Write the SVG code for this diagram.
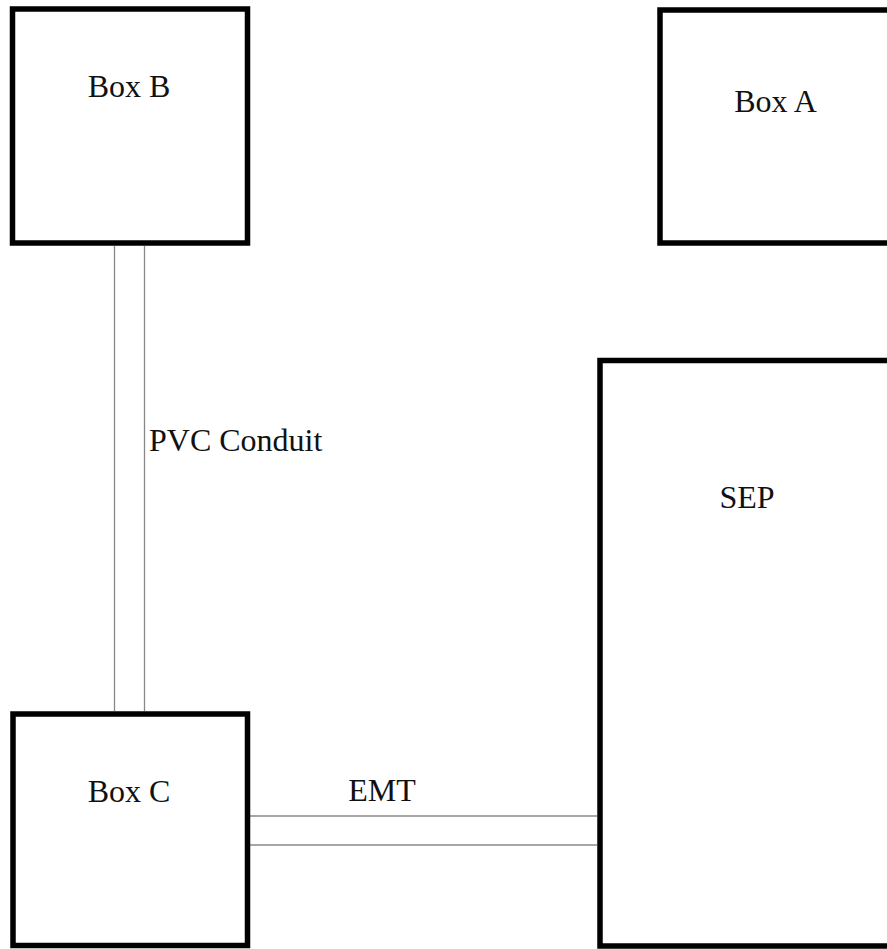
<svg xmlns="http://www.w3.org/2000/svg" width="887" height="949" viewBox="0 0 887 949">
<style>
.box{fill:#fff;stroke:#000;stroke-width:5.5}
.lbl{font-family:"Liberation Serif","Times New Roman",serif;font-size:32px;fill:#111}
.pipe{stroke:#888;stroke-width:1.3;fill:none}
</style>
<rect width="887" height="949" fill="#fff"/>
<g id="connectors">
<line class="pipe" x1="114.5" y1="246" x2="114.5" y2="711"/>
<line class="pipe" x1="144.5" y1="246" x2="144.5" y2="711"/>
<line class="pipe" x1="250" y1="816" x2="597" y2="816"/>
<line class="pipe" x1="250" y1="845" x2="597" y2="845"/>
<text class="lbl" x="149" y="451">PVC Conduit</text>
<text class="lbl" x="382" y="801" text-anchor="middle">EMT</text>
</g>
<g id="boxB">
<rect class="box" x="12.5" y="9" width="235" height="234"/>
<text class="lbl" x="129" y="97" text-anchor="middle">Box B</text>
</g>
<g id="boxA">
<rect class="box" x="660" y="10" width="260" height="233"/>
<text class="lbl" x="775.5" y="112" text-anchor="middle">Box A</text>
</g>
<g id="boxC">
<rect class="box" x="13" y="714" width="234.5" height="231.5"/>
<text class="lbl" x="129" y="802" text-anchor="middle">Box C</text>
</g>
<g id="sep">
<rect class="box" x="600" y="360.5" width="320" height="585.5"/>
<text class="lbl" x="747" y="508" text-anchor="middle">SEP</text>
</g>
</svg>
